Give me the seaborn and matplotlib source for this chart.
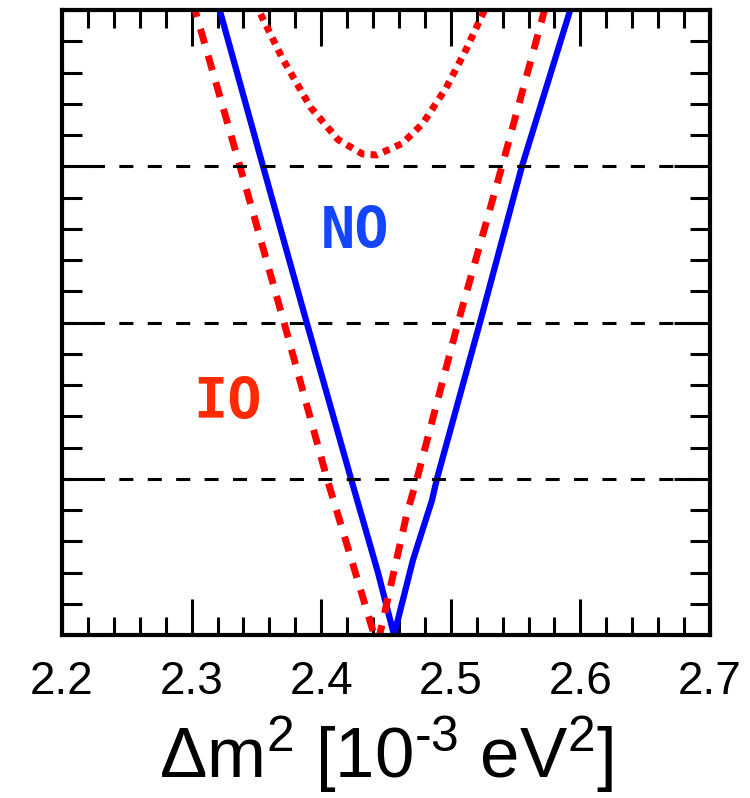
import matplotlib
matplotlib.use("Agg")
import matplotlib.pyplot as plt
import seaborn as sns
from matplotlib.ticker import MultipleLocator, NullFormatter

# ---- data (x in 10^-3 eV^2, y in number of sigma) ----
no_x = [2.320, 2.3551, 2.3888, 2.4230, 2.4438, 2.4562, 2.4708, 2.4855, 2.4893, 2.5225, 2.5549, 2.5940]
no_y = [4.05, 3.00, 2.00, 1.00, 0.40, 0.00, 0.48, 0.863, 1.00, 2.00, 3.00, 4.05]

io_x = [2.3009, 2.3373, 2.3713, 2.4045, 2.4409, 2.4430, 2.4451, 2.4662, 2.4739, 2.5056, 2.5395, 2.5740]
io_y = [4.05, 3.00, 2.00, 1.00, 0.00, -0.04, 0.00, 0.78, 1.00, 2.00, 3.00, 4.05]

io2_x = [2.3488, 2.3533, 2.3700, 2.3919, 2.4132, 2.4320, 2.4428, 2.4626, 2.4783, 2.4963, 2.5115, 2.5251, 2.5290]
io2_y = [4.05, 3.973, 3.691, 3.376, 3.169, 3.078, 3.072, 3.146, 3.273, 3.500, 3.742, 3.983, 4.05]

sigma_lines = [1, 2, 3]
x_ticks = [2.2, 2.3, 2.4, 2.5, 2.6, 2.7]
x_ticklabels = ["2.2", "2.3", "2.4", "2.5", "2.6", "2.7"]

sns.set_style("ticks", rc={"axes.edgecolor": "black", "text.color": "black",
                           "xtick.color": "black", "ytick.color": "black",
                           "axes.labelcolor": "black"})
plt.rcParams['font.family'] = ['Liberation Sans', 'DejaVu Sans']
plt.rcParams['mathtext.fontset'] = 'custom'
plt.rcParams['mathtext.rm'] = 'Liberation Sans'
plt.rcParams['mathtext.it'] = 'Liberation Sans'

fig = plt.figure(figsize=(7.5, 7.98), dpi=100)
ax = fig.add_axes([62/750, 1 - 635/798, 648/750, 625/798])

sns.lineplot(x=no_x, y=no_y, ax=ax, sort=False, estimator=None,
             color="#0000ff", lw=4.5, solid_capstyle="butt", zorder=3)
sns.lineplot(x=io_x, y=io_y, ax=ax, sort=False, estimator=None,
             color="#ff0000", lw=5.0, linestyle=(0, (2.2, 1.8)), zorder=3)
sns.lineplot(x=io2_x, y=io2_y, ax=ax, sort=False, estimator=None,
             color="#ff0000", lw=5.0, linestyle=(0, (1.0, 0.9)), zorder=3)

for s in sigma_lines:
    ax.axhline(s, color="black", lw=2.2, linestyle=(0, (4.6, 4.7)), zorder=4)

ax.text(2.426, 2.575, "NO", color="#1446ff", fontsize=41, fontweight="bold",
        family="DejaVu Sans Mono", ha="center", va="center", zorder=5)
ax.text(2.328, 1.482, "IO", color="#ff2a00", fontsize=41, fontweight="bold",
        family="DejaVu Sans Mono", ha="center", va="center", zorder=5)

ax.set_xlim(2.2, 2.7)
ax.set_ylim(0, 4)
ax.set_xticks(x_ticks)
ax.set_xticklabels(x_ticklabels)
ax.xaxis.set_minor_locator(MultipleLocator(0.02))
ax.yaxis.set_major_locator(MultipleLocator(1))
ax.yaxis.set_minor_locator(MultipleLocator(0.2))
ax.yaxis.set_major_formatter(NullFormatter())

ax.tick_params(axis="x", which="major", direction="in", top=True, bottom=True,
               length=26, width=2.2, labelsize=33, pad=18, colors="black")
ax.tick_params(axis="x", which="minor", direction="in", top=True, bottom=True,
               length=13, width=2.2, colors="black")
ax.tick_params(axis="y", which="major", direction="in", left=True, right=True,
               length=26, width=2.2, labelleft=False, colors="black")
ax.tick_params(axis="y", which="minor", direction="in", left=True, right=True,
               length=14.4, width=2.2, colors="black")

for sp in ax.spines.values():
    sp.set_linewidth(3.0)
    sp.set_color("black")
    sp.set_zorder(6)

ax.set_xlabel(r"$\Delta$m$^2$ [10$^{\text{-3}}$ eV$^2$]", fontsize=51, labelpad=7,
              color="black")
ax.set_ylabel("")

fig.savefig("out.png", dpi=100)
